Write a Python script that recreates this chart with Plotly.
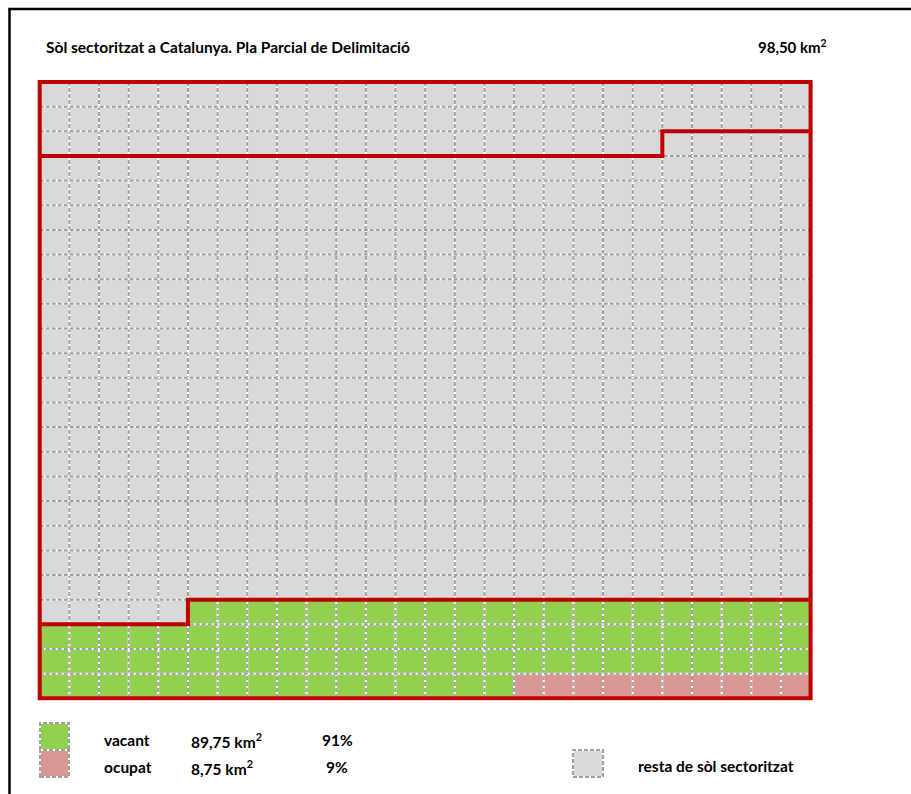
import math
import plotly.graph_objects as go

# Waffle grid dimensions (1 cell ~ 1 km²)
n_cols = 26
n_rows = 25

# Areas (km²)
title = "Sòl sectoritzat a Catalunya. Pla Parcial de Delimitació"
categories = ["vacant", "ocupat"]
areas_km2 = [89.75, 8.75]
rest_label = "resta de sòl sectoritzat"

# Cells in the upper outlined block (counted from the top-left corner)
top_block_cells = [73]

total_km2 = sum(areas_km2)
n_total = math.ceil(total_km2)
n_vacant = math.floor(areas_km2[0])
n_ocupat = n_total - n_vacant

# Colours
GREY = "#D9D9D9"
GREEN = "#92D050"
PINK = "#DA9694"
RED = "#C00000"
DASH = "#A0A0A0"

W, H = 911, 794


def fmt(v, d=2):
    return f"{v:.{d}f}".replace(".", ",")


# Cell state: 0 = rest, 1 = vacant, 2 = occupied; filled from the last cell backwards
n_cells = n_cols * n_rows
states = [0] * n_cells
for k in range(n_total):
    idx = n_cells - 1 - k
    states[idx] = 2 if k < n_ocupat else 1
z = [states[r * n_cols:(r + 1) * n_cols] for r in range(n_rows)]

fig = go.Figure()
fig.add_trace(go.Heatmap(
    z=z,
    x=list(range(n_cols)),
    y=list(range(n_rows)),
    zmin=0, zmax=2,
    colorscale=[[0, GREY], [0.333, GREY], [0.334, GREEN], [0.666, GREEN], [0.667, PINK], [1, PINK]],
    showscale=False,
    hoverinfo="skip",
))

shapes = []
DASHPAT = "4px,2px"
# dashed cell borders: white base + grey dashes
for k in range(1, n_cols):
    for col, dash in (("white", "solid"), (DASH, DASHPAT)):
        shapes.append(dict(type="line", xref="x", yref="y", x0=k - 0.5, x1=k - 0.5,
                           y0=-0.5, y1=n_rows - 0.5, line=dict(color=col, width=2, dash=dash)))
for k in range(1, n_rows):
    for col, dash in (("white", "solid"), (DASH, DASHPAT)):
        shapes.append(dict(type="line", xref="x", yref="y", x0=-0.5, x1=n_cols - 0.5,
                           y0=k - 0.5, y1=k - 0.5, line=dict(color=col, width=2, dash=dash)))


def step_path(first_idx):
    r, c = divmod(first_idx, n_cols)
    return (f"M {-0.5},{r + 0.5} L {c - 0.5},{r + 0.5} L {c - 0.5},{r - 0.5} "
            f"L {n_cols - 0.5},{r - 0.5}")


red = dict(color=RED, width=4)
shapes.append(dict(type="path", xref="x", yref="y", path=step_path(top_block_cells[0]), line=red))
shapes.append(dict(type="path", xref="x", yref="y", path=step_path(n_cells - n_total), line=red))
shapes.append(dict(type="rect", xref="x", yref="y", x0=-0.5, x1=n_cols - 0.5,
                   y0=-0.5, y1=n_rows - 0.5, line=red))


def px(x):
    return x / W


def py(y):
    return 1 - y / H


# outer frame (left and top edges)
shapes.append(dict(type="path", xref="paper", yref="paper",
                   path=f"M {px(9.5)},{py(794)} L {px(9.5)},{py(9)} L {px(911)},{py(9)}",
                   line=dict(color="black", width=2.5)))


def swatch(x0, y0, x1, y1, fill):
    shapes.append(dict(type="rect", xref="paper", yref="paper", x0=px(x0), x1=px(x1),
                       y0=py(y1), y1=py(y0), fillcolor=fill, line=dict(color="white", width=2)))
    shapes.append(dict(type="rect", xref="paper", yref="paper", x0=px(x0), x1=px(x1),
                       y0=py(y1), y1=py(y0), fillcolor="rgba(0,0,0,0)",
                       line=dict(color=DASH, width=2, dash=DASHPAT)))


swatch(40, 723, 69, 750, GREEN)
swatch(40, 750, 69, 777, PINK)
swatch(573, 750, 603, 777, GREY)

FONT = "Lato"
annotations = []


def text(x, y, s, anchor="left", size=15.5):
    annotations.append(dict(xref="paper", yref="paper", x=px(x), y=py(y), text=s, showarrow=False,
                            xanchor=anchor, yanchor="middle",
                            font=dict(family=FONT, size=size, color="black", weight="bold")))


text(44, 47, title, size=15.5)
text(829, 46, f"{fmt(total_km2)} km<sup>2</sup>", anchor="right", size=15)

for i, (cat, a) in enumerate(zip(categories, areas_km2)):
    y = 740 + 27 * i
    text(102, y, cat, size=15.5)
    text(189, y, f"{fmt(a)} km<sup>2</sup>", size=15.5)
    text(337, y, f"{round(100 * a / total_km2)}%", anchor="center", size=15.5)
text(636, 766, rest_label, size=15.5)

# pad the axis ranges so the outer red border is not clipped by the plot area
pad = 0.1
x0_px, x1_px = 39.7, 810.6
y0_px, y1_px = 82.0, 698.3
cw = (x1_px - x0_px) / n_cols
ch = (y1_px - y0_px) / n_rows

fig.update_layout(
    width=W, height=H,
    margin=dict(l=0, r=0, t=0, b=0),
    paper_bgcolor="white",
    plot_bgcolor="white",
    showlegend=False,
    shapes=shapes,
    annotations=annotations,
    xaxis=dict(domain=[px(x0_px - pad * cw), px(x1_px + pad * cw)],
               range=[-0.5 - pad, n_cols - 0.5 + pad], visible=False, fixedrange=True),
    yaxis=dict(domain=[py(y1_px + pad * ch), py(y0_px - pad * ch)],
               range=[n_rows - 0.5 + pad, -0.5 - pad], visible=False, fixedrange=True),
)

fig.write_html("out.html")
